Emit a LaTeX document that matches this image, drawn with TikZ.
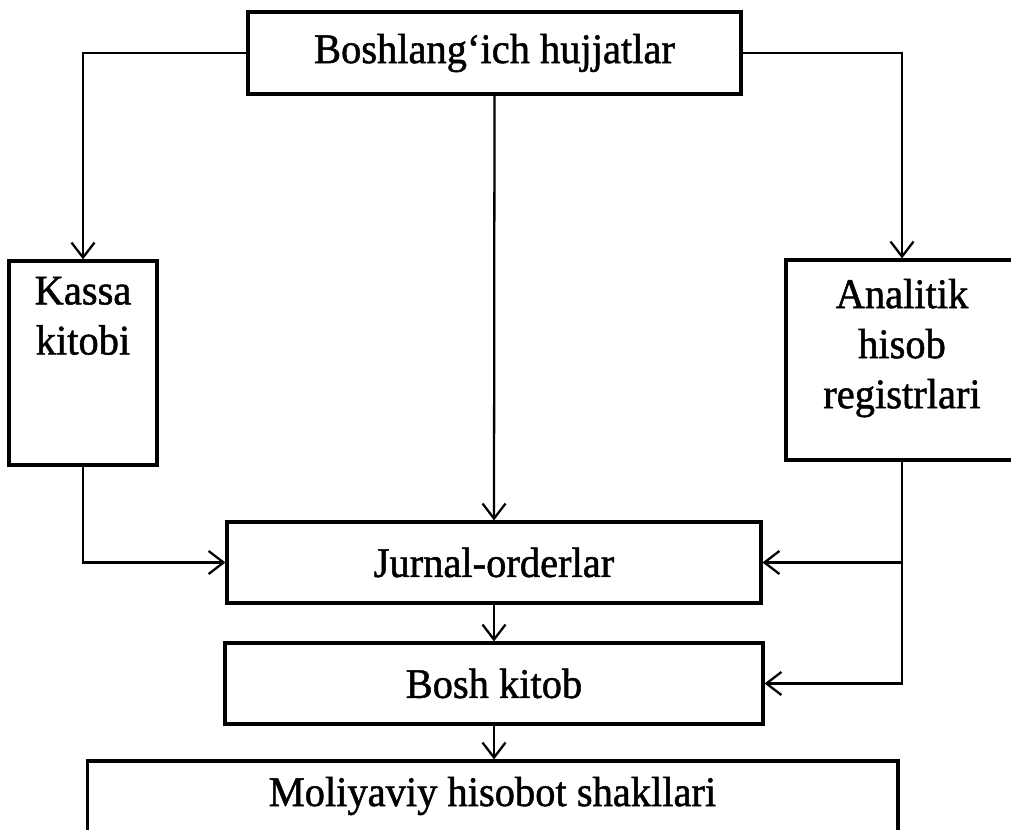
\documentclass[tikz,border=0pt]{standalone}
\usepackage{fontspec}
\setmainfont{Liberation Serif}[FakeStretch=0.96,FakeBold=1.2]
\usetikzlibrary{positioning,arrows.meta}
\tikzset{
  blok/.style={draw,line width=1.8pt,rectangle,inner sep=0pt},
  matn/.style={inner sep=0pt,align=center,font=\fontsize{24}{28.5}\selectfont},
  strelka/.style={line width=1.3pt,-{Straight Barb[length=0.3cm,width=0.46cm]}}
}
\begin{document}
\begin{tikzpicture}[x=0.02cm,y=-0.02cm]
 \useasboundingbox (0,0) rectangle (1011,830);
 % bloklar
 \node[blok,matn,minimum width=9.86cm,minimum height=1.64cm] (boshl) at (494.5,53) {Boshlang‘ich hujjatlar};
 \node[blok,minimum width=2.96cm,minimum height=4.08cm] (kassa) at (83,363) {};
 \node[matn,below=0.34cm of kassa.north] (kassamatn) {Kassa\\kitobi};
 \node[blok,minimum width=4.64cm,minimum height=4.0cm] (analit) at (902,360) {};
 \node[matn,below=0.4cm of analit.north] (analitmatn) {Analitik\\hisob\\registrlari};
 \node[blok,matn,minimum width=10.68cm,minimum height=1.62cm] (jurnal) at (494,562.5) {Jurnal-orderlar};
 \node[blok,matn,minimum width=10.76cm,minimum height=1.62cm] (bosh) at (494,683.5) {Bosh kitob};
 \node[blok,minimum width=16.22cm,minimum height=1.8cm] (moliya) at (492.5,806) {};
 \node[matn,below=0.34cm of moliya.north] (moliyamatn) {Moliyaviy hisobot shakllari};
 % strelkalar
 \draw[strelka] (boshl.west) -| (kassa.north);
 \draw[strelka] (boshl.east) -| (analit.north);
 \draw[strelka] (boshl.south) -- (jurnal.north);
 \draw[strelka] (kassa.south) |- (jurnal.west);
 \draw[strelka] (analit.south) |- (bosh.east);
 \draw[strelka] (analit.south |- jurnal.east) -- (jurnal.east);
 \draw[strelka] (jurnal.south) -- (bosh.north);
 \draw[strelka] (bosh.south) -- (bosh.south |- moliya.north);
\end{tikzpicture}
\end{document}
